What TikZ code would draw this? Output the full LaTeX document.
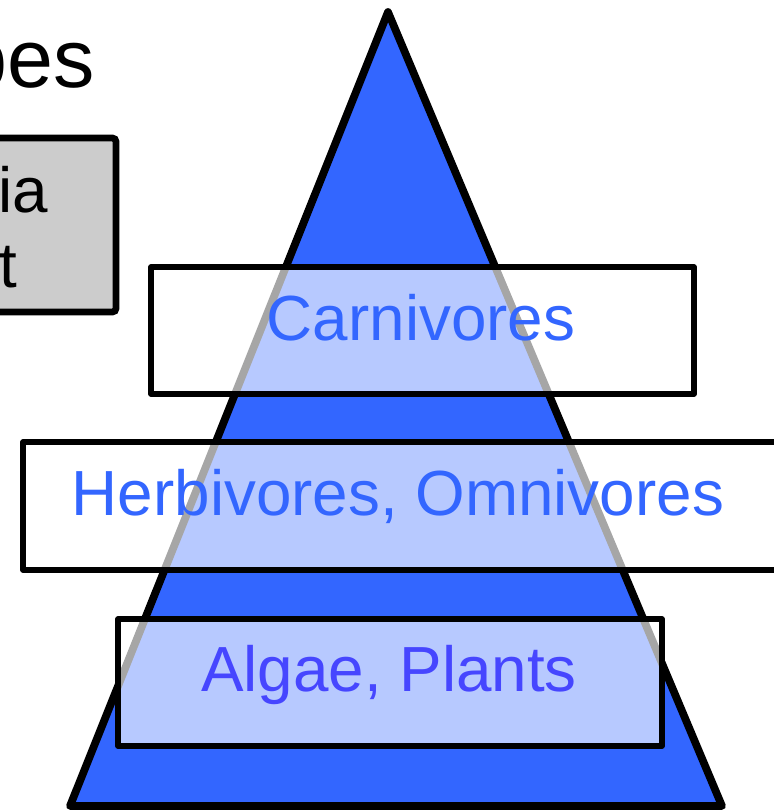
\documentclass[tikz,border=0pt]{standalone}
\usepackage{fontspec}
\setmainfont{Liberation Sans}
\usetikzlibrary{positioning}
\definecolor{pyrblue}{HTML}{3366FF}
\definecolor{algaeblue}{HTML}{4646FF}
\definecolor{notegray}{HTML}{CCCCCC}

\begin{document}
\begin{tikzpicture}[
    x=0.02cm, y=-0.02cm,
    pyramid/.style={draw=black, fill=pyrblue, line width=4.4pt, line join=round},
    layerbox/.style={draw=black, fill=white, fill opacity=0.65, line width=3.3pt, line join=round, inner sep=0pt},
    layertext/.style={font=\fontsize{36.3}{40}\selectfont, text=pyrblue, anchor=base, inner sep=0pt},
    notetext/.style={font=\fontsize{36.3}{40}\selectfont, anchor=base east, inner sep=0pt}
]

% page frame
\useasboundingbox (0,0) rectangle (774,812);
\clip (0,0) rectangle (774,812);

% heading, cut off at the left
\node[font=\fontsize{47}{52}\selectfont, anchor=base east, inner sep=0pt] (heading) at (95,87) {pes};

% gray note box, cut off at the left
\draw[fill=notegray, line width=3.8pt, rounded corners=2pt] (-30,138) rectangle (116,312);
\node[notetext] (noteA) at (48,212) {ia};
\node[notetext] (noteB) at (18,287) {t};

% triangle
\coordinate (apex) at (388,12);
\coordinate (baseL) at (70,806);
\coordinate (baseR) at (722,806);
\draw[pyramid] (apex) -- (baseL) -- (baseR) -- cycle;

% level boxes
\node[layerbox, minimum width=10.86cm, minimum height=2.54cm] (carnbox) at (422.5,330.5) {};
\node[layerbox, minimum width=15.1cm, minimum height=2.56cm] (herbbox) at (400.5,506) {};
\node[layerbox, minimum width=10.88cm, minimum height=2.54cm] (algbox) at (390,682.5) {};

% level labels
\node[layertext] (carn) at (421,340) {Carnivores};
\node[layertext] (herb) at (398,515) {Herbivores, Omnivores};
\node[layertext, text=algaeblue] (alg) at (389,691) {Algae, Plants};

\end{tikzpicture}
\end{document}
